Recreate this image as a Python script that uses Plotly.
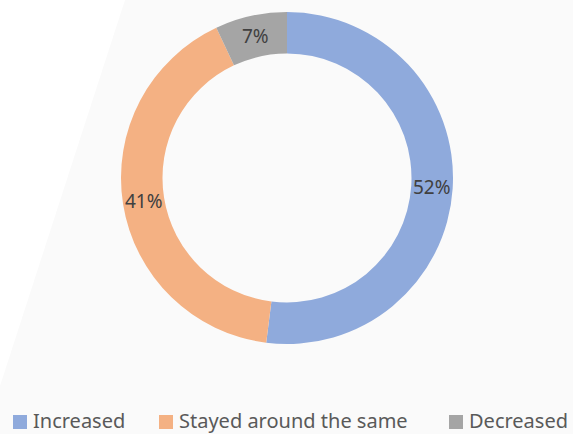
import math
import plotly.graph_objects as go

# data
labels = ["Increased", "Stayed around the same", "Decreased"]
values = [52, 41, 7]
colors = ["#8FAADC", "#F4B183", "#A5A5A5"]

W, H = 573, 434
FONT = "Noto Sans"

# donut geometry in pixels
CX, CY, R_OUT, HOLE = 287, 178, 166, 0.75


def px(x):
    return x / W


def py(y):
    return 1 - y / H


fig = go.Figure()

fig.add_trace(go.Pie(
    labels=labels,
    values=values,
    hole=HOLE,
    sort=False,
    direction="clockwise",
    rotation=0,
    marker=dict(colors=colors, line=dict(color="white", width=0)),
    textinfo="none",
    domain=dict(x=[px(CX - R_OUT), px(CX + R_OUT)],
                y=[py(CY + R_OUT), py(CY - R_OUT)]),
    hoverinfo="label+percent",
    showlegend=False,
))

# percentage labels centred in the ring at each slice's mid angle
total = sum(values)
r_mid = R_OUT * (1 + HOLE) / 2
start = 0.0
for v in values:
    mid = (start + v / 2) / total * 2 * math.pi
    start += v
    fig.add_annotation(text=f"{round(100 * v / total)}%", xref="paper", yref="paper",
                       x=px(CX + r_mid * math.sin(mid)), y=py(CY - r_mid * math.cos(mid)),
                       xanchor="center", yanchor="middle", showarrow=False,
                       font=dict(color="#404040", size=19, family=FONT))

# faint slanted background panel
pts = [(125, 0), (W, 0), (W, H), (0, H), (0, 386)]
path = "M " + " L ".join(f"{px(x)},{py(y)}" for x, y in pts) + " Z"
fig.add_shape(type="path", path=path, xref="paper", yref="paper",
              fillcolor="#FAFAFA", line=dict(width=0), layer="below")

# legend drawn by hand, Excel style (small square, text right beside it)
legend_left = [13, 159, 449]
for lab, col, x0 in zip(labels, colors, legend_left):
    fig.add_shape(type="rect", xref="paper", yref="paper",
                  x0=px(x0), x1=px(x0 + 14), y0=py(429), y1=py(415),
                  fillcolor=col, line=dict(width=0))
    fig.add_annotation(text=lab, xref="paper", yref="paper",
                       x=px(x0 + 18), y=py(420), xanchor="left", yanchor="middle",
                       showarrow=False,
                       font=dict(color="#595959", size=20, family=FONT))

fig.update_layout(
    width=W, height=H,
    margin=dict(l=0, r=0, t=0, b=0),
    paper_bgcolor="white",
    plot_bgcolor="white",
    showlegend=False,
)

fig.write_html("out.html", config={"displayModeBar": False},
               post_script="document.body.style.margin='0';")
